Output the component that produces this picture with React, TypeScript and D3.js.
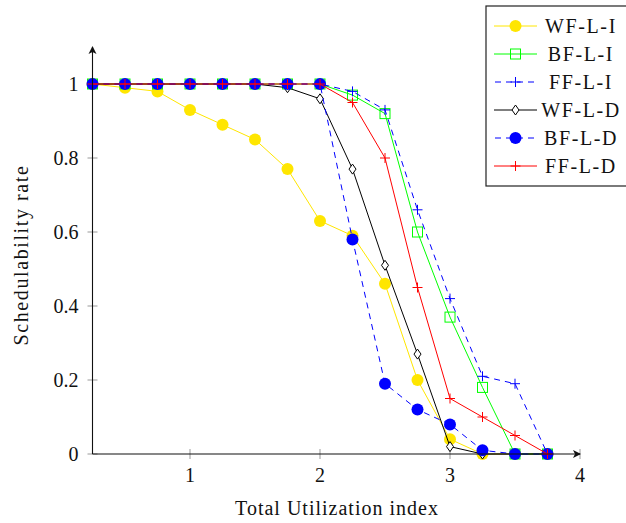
import React, { useEffect, useRef } from "react";
import * as d3 from "d3";

const utilization = [0.25, 0.5, 0.75, 1, 1.25, 1.5, 1.75, 2, 2.25, 2.5, 2.75, 3, 3.25, 3.5, 3.75];
const wfLI = [1, 0.99, 0.98, 0.93, 0.89, 0.85, 0.77, 0.63, 0.59, 0.46, 0.2, 0.04, 0, 0, 0];
const bfLI = [1, 1, 1, 1, 1, 1, 1, 1, 0.97, 0.92, 0.6, 0.37, 0.18, 0, 0];
const ffLI = [1, 1, 1, 1, 1, 1, 1, 1, 0.98, 0.93, 0.66, 0.42, 0.21, 0.19, 0];
const wfLD = [1, 1, 1, 1, 1, 1, 0.99, 0.96, 0.77, 0.51, 0.27, 0.02, 0, 0, 0];
const bfLD = [1, 1, 1, 1, 1, 1, 1, 1, 0.58, 0.19, 0.12, 0.08, 0.01, 0, 0];
const ffLD = [1, 1, 1, 1, 1, 1, 1, 1, 0.95, 0.8, 0.45, 0.15, 0.1, 0.05, 0];

const xTicks = [1, 2, 3, 4];
const yTicks = [0, 0.2, 0.4, 0.6, 0.8, 1];

type Series = { name: string; values: number[]; color: string; dashed: boolean; marker: string };

const series: Series[] = [
  { name: "WF-L-I", values: wfLI, color: "#ffe600", dashed: false, marker: "dot" },
  { name: "BF-L-I", values: bfLI, color: "#00ff00", dashed: false, marker: "square" },
  { name: "FF-L-I", values: ffLI, color: "#0000ff", dashed: true, marker: "plus" },
  { name: "WF-L-D", values: wfLD, color: "#000000", dashed: false, marker: "diamond" },
  { name: "BF-L-D", values: bfLD, color: "#0000ff", dashed: true, marker: "dot" },
  { name: "FF-L-D", values: ffLD, color: "#ff0000", dashed: false, marker: "plus" },
];

const width = 626;
const height = 523;
const font = "'Liberation Serif', 'Times New Roman', serif";

const drawMarker = (g: any, kind: string, color: string, cx: number, cy: number) => {
  if (kind === "dot") {
    g.append("circle").attr("cx", cx).attr("cy", cy).attr("r", 6).attr("fill", color);
  } else if (kind === "square") {
    g.append("rect")
      .attr("x", cx - 5).attr("y", cy - 5).attr("width", 10).attr("height", 10)
      .attr("fill", "none").attr("stroke", color).attr("stroke-width", 1);
  } else if (kind === "plus") {
    g.append("path")
      .attr("d", `M${cx - 5},${cy}H${cx + 5}M${cx},${cy - 5}V${cy + 5}`)
      .attr("stroke", color).attr("stroke-width", 1);
  } else if (kind === "diamond") {
    g.append("path")
      .attr("d", `M${cx},${cy - 5}L${cx + 3.5},${cy}L${cx},${cy + 5}L${cx - 3.5},${cy}Z`)
      .attr("fill", "white").attr("stroke", color).attr("stroke-width", 1);
  }
};

export default function App() {
  const ref = useRef<SVGSVGElement>(null);

  useEffect(() => {
    const svg = d3.select(ref.current);
    svg.selectAll("*").remove();

    const x = d3.scaleLinear().domain([0.25, 4]).range([92.5, 580]);
    const y = d3.scaleLinear().domain([0, 1]).range([454, 84]);

    // tick marks (grey, both sides of the axes)
    const ticks = svg.append("g").attr("stroke", "#999").attr("stroke-width", 1);
    xTicks.forEach((t) => {
      ticks.append("line").attr("x1", x(t)).attr("x2", x(t)).attr("y1", y(0) - 5).attr("y2", y(0) + 5);
    });
    yTicks.forEach((t) => {
      ticks.append("line").attr("x1", x(0.25) - 5).attr("x2", x(0.25) + 5).attr("y1", y(t)).attr("y2", y(t));
    });

    // series
    const line = d3
      .line<number>()
      .x((d, i) => x(utilization[i]))
      .y((d) => y(d));

    series.forEach((s) => {
      const g = svg.append("g");
      g.append("path")
        .attr("d", line(s.values))
        .attr("fill", "none")
        .attr("stroke", s.color)
        .attr("stroke-width", 1)
        .attr("stroke-dasharray", s.dashed ? "6,5" : null);
      s.values.forEach((v, i) => drawMarker(g, s.marker, s.color, x(utilization[i]), y(v)));
    });

    // axes with arrows
    const axes = svg.append("g").attr("stroke", "#111").attr("stroke-width", 1.1);
    axes.append("line").attr("x1", x(0.25)).attr("x2", x(4)).attr("y1", y(0)).attr("y2", y(0));
    axes.append("line").attr("x1", x(0.25)).attr("x2", x(0.25)).attr("y1", y(0)).attr("y2", y(1.1));
    svg.append("path")
      .attr("d", `M${x(4) + 1},${y(0)}L${x(4) - 7},${y(0) - 4}L${x(4) - 5},${y(0)}L${x(4) - 7},${y(0) + 4}Z`)
      .attr("fill", "#111");
    svg.append("path")
      .attr("d", `M${x(0.25)},${y(1.1) - 1}L${x(0.25) - 4},${y(1.1) + 7}L${x(0.25)},${y(1.1) + 5}L${x(0.25) + 4},${y(1.1) + 7}Z`)
      .attr("fill", "#111");

    // tick labels
    const labels = svg.append("g").attr("font-family", font).attr("font-size", 20).attr("fill", "#111");
    xTicks.forEach((t) => {
      labels.append("text").attr("x", x(t)).attr("y", y(0) + 28).attr("text-anchor", "middle").text(d3.format("d")(t));
    });
    yTicks.forEach((t) => {
      labels.append("text").attr("x", x(0.25) - 14).attr("y", y(t) + 7).attr("text-anchor", "end").text(String(t));
    });

    // axis titles
    labels.append("text")
      .attr("x", 337).attr("y", 515)
      .attr("text-anchor", "middle")
      .attr("letter-spacing", 1)
      .text("Total Utilization index");
    labels.append("text")
      .attr("transform", `translate(28,255) rotate(-90)`)
      .attr("text-anchor", "middle")
      .attr("letter-spacing", 1.6)
      .text("Schedulability rate");

    // legend
    const legend = svg.append("g");
    legend.append("rect")
      .attr("x", 486).attr("y", 6).attr("width", 160).attr("height", 180)
      .attr("fill", "white").attr("stroke", "#222").attr("stroke-width", 1.2);
    series.forEach((s, i) => {
      const ly = 26 + i * 28;
      legend.append("line")
        .attr("x1", 494).attr("x2", 537).attr("y1", ly).attr("y2", ly)
        .attr("stroke", s.color).attr("stroke-width", 1)
        .attr("stroke-dasharray", s.dashed ? "6,5" : null)
        .attr("stroke-dashoffset", s.dashed ? -1 : null);
      drawMarker(legend, s.marker, s.color, 515.5, ly);
      legend.append("text")
        .attr("x", 581).attr("y", ly + 7)
        .attr("text-anchor", "middle")
        .attr("font-family", font).attr("font-size", 20).attr("fill", "#111")
        .attr("letter-spacing", 1.6)
        .text(s.name);
    });
  }, []);

  return (
    <svg
      ref={ref}
      width={width}
      height={height}
      style={{ position: "absolute", left: 0, top: 0, background: "white" }}
    />
  );
}
